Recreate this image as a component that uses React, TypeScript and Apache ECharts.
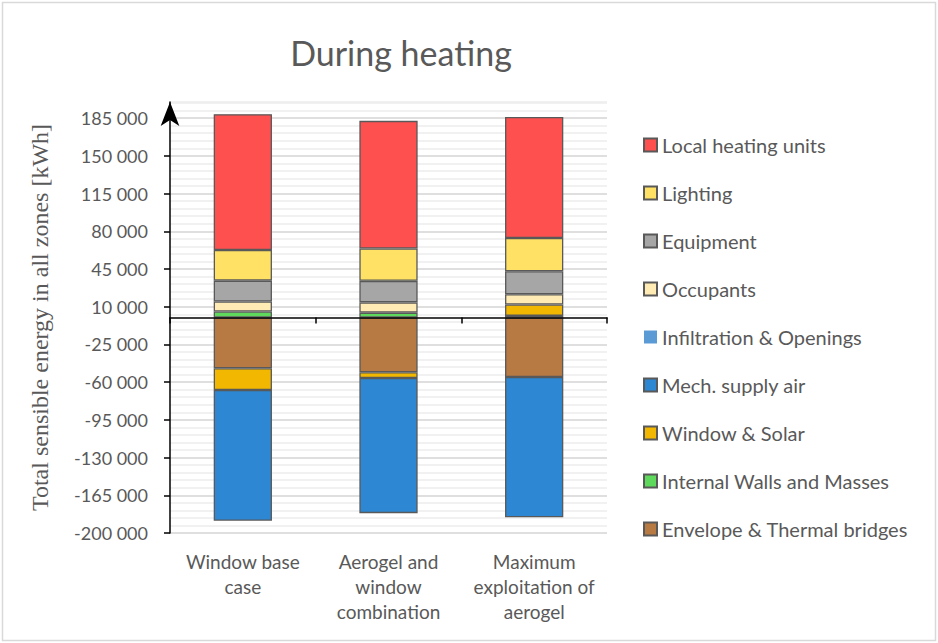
import React, { useEffect, useRef } from 'react';
import * as echarts from 'echarts';

const categories = ['Window base\ncase', 'Aerogel and\nwindow\ncombination', 'Maximum\nexploitation of\naerogel'];
const envelope = [-47100, -50800, -55200];
const internalWalls = [5500, 4500, 1500];
const windowSolar = [-20200, -5300, 10500];
const mechSupply = [-121300, -125500, -130200];
const infiltration = [0, 0, 0];
const occupants = [9300, 9500, 9600];
const equipment = [19400, 20000, 21300];
const lighting = [28500, 30000, 30900];
const localHeating = [126000, 118500, 112300];
const yTicks = [-200000, -165000, -130000, -95000, -60000, -25000, 10000, 45000, 80000, 115000, 150000, 185000];

const FONT = 'Lato';
const TXT = '#595959';

function fmt(v: number): string {
  const s = Math.abs(Math.round(v)).toString();
  const parts: string[] = [];
  for (let i = s.length; i > 0; i -= 3) parts.unshift(s.substring(Math.max(0, i - 3), i));
  return (v < 0 ? '-' : '') + parts.join(' ');
}

export default function App() {
  const ref = useRef<HTMLDivElement>(null);
  useEffect(() => {
    document.body.style.margin = '0';
    const chart = echarts.init(ref.current!, null, { renderer: 'svg' });
    const mk = (name: string, data: number[], color: string, bw = 1.3) => ({
      name,
      type: 'bar',
      stack: 'total',
      barWidth: '40%',
      xAxisIndex: 0,
      yAxisIndex: 0,
      data,
      itemStyle: { color, borderColor: '#595959', borderWidth: bw },
    });
    const series = [
      mk('Envelope & Thermal bridges', envelope, '#B87A43'),
      mk('Internal Walls and Masses', internalWalls, '#5FD95B'),
      mk('Window & Solar', windowSolar, '#F2B700'),
      mk('Mech. supply air', mechSupply, '#2D87D2'),
      mk('Infiltration & Openings', infiltration, '#5B9BD5', 0),
      mk('Occupants', occupants, '#FFEBB3'),
      mk('Equipment', equipment, '#A6A6A6'),
      mk('Lighting', lighting, '#FFE265'),
      mk('Local heating units', localHeating, '#FF5050'),
    ];
    chart.setOption({
      animation: false,
      grid: { left: 170, right: 331, top: 102, bottom: 110, containLabel: false },
      legend: {
        orient: 'vertical',
        left: 643,
        top: 135,
        padding: 0,
        itemWidth: 13,
        itemHeight: 13,
        itemGap: 28,
        icon: 'rect',
        textStyle: { fontFamily: FONT, fontSize: 20, color: TXT },
        data: [
          'Local heating units',
          'Lighting',
          'Equipment',
          'Occupants',
          'Infiltration & Openings',
          'Mech. supply air',
          'Window & Solar',
          'Internal Walls and Masses',
          'Envelope & Thermal bridges',
        ],
      },
      xAxis: [
        {
          type: 'category',
          data: categories,
          position: 'bottom',
          z: 5,
          axisLine: { onZero: true, lineStyle: { color: '#000', width: 1.5 } },
          axisTick: { show: true, length: 6, lineStyle: { color: '#000', width: 1.5 } },
          axisLabel: { show: false },
          splitLine: { show: false },
        },
        {
          type: 'category',
          data: categories,
          position: 'bottom',
          axisLine: { show: false, onZero: false },
          axisTick: { show: false },
          axisLabel: { show: true, interval: 0, margin: 16, fontFamily: FONT, fontSize: 19, color: TXT, lineHeight: 25 },
          splitLine: { show: false },
        },
      ],
      yAxis: [
        {
          type: 'value',
          min: -200000,
          max: 200000,
          interval: 35000,
          z: 1,
          name: 'Total sensible energy in all zones [kWh]',
          nameLocation: 'middle',
          nameRotate: 90,
          nameGap: 118,
          nameTextStyle: { fontFamily: 'Liberation Serif', fontSize: 24, color: TXT },
          axisLine: {
            show: true,
            lineStyle: { color: '#000', width: 1.5 },
            symbol: ['none', 'arrow'],
            symbolSize: [14, 24],
            symbolOffset: [0, 0],
          },
          axisTick: { show: true, length: 6, customValues: yTicks, lineStyle: { color: '#000', width: 1.5 } },
          axisLabel: {
            show: true,
            customValues: yTicks,
            margin: 22,
            fontFamily: FONT,
            fontSize: 18,
            color: TXT,
            formatter: (v: number) => fmt(v),
          },
          splitLine: { show: true, lineStyle: { color: '#D9D9D9', width: 1.5 } },
        },
        {
          type: 'value',
          min: -200000,
          max: 200000,
          interval: 7000,
          position: 'left',
          z: 0,
          axisLine: { show: false },
          axisTick: { show: false },
          axisLabel: { show: false },
          splitLine: { show: true, lineStyle: { color: '#EDEDED', width: 1.5 } },
        },
      ],
      graphic: [
        {
          type: 'rect',
          shape: { x: 2.5, y: 2.5, width: 933, height: 638 },
          style: { fill: 'none', stroke: '#D9D9D9', lineWidth: 1.5 },
          silent: true,
        },
        {
          type: 'text',
          x: 401,
          y: 52,
          style: {
            text: 'During heating',
            fontFamily: FONT,
            fontSize: 34,
            fill: TXT,
            align: 'center',
            verticalAlign: 'middle',
          },
        },
      ],
      series,
    });
    return () => chart.dispose();
  }, []);
  return <div ref={ref} style={{ width: 938, height: 643 }} />;
}
